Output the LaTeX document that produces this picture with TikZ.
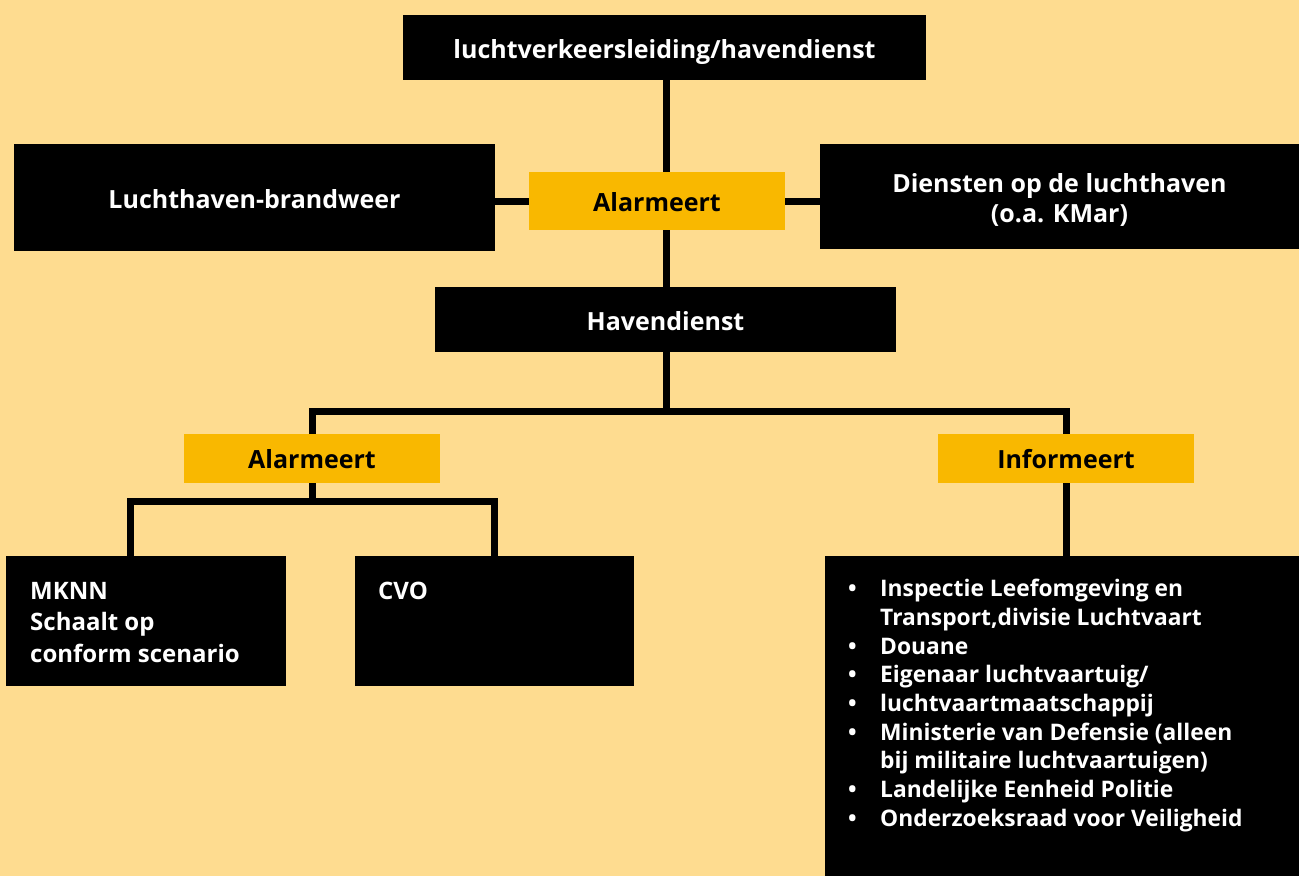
\documentclass[tikz,border=0pt]{standalone}
\usepackage{fontspec}
\setmainfont{Open Sans}
\usetikzlibrary{calc}
\definecolor{bgc}{HTML}{FEDC90}
\definecolor{orgc}{HTML}{F9B800}
\pgfdeclarelayer{bg}\pgfdeclarelayer{lines}
\pgfsetlayers{bg,lines,main}
\newcommand\mylbl{\fontsize{25}{30}\selectfont\bfseries}
\newcommand\mytxt{\fontsize{24}{31.5}\selectfont\bfseries}
\newcommand\mylist{\fontsize{22.8}{28.7}\selectfont\bfseries}
\begin{document}
\begin{tikzpicture}[x=1pt,y=-1pt,
  blk/.style={fill=black, text=white, inner sep=0pt, font=\mylbl, align=center, text height=21.5pt, text depth=0pt},
  orgbox/.style={fill=orgc, text=black, inner sep=0pt, font=\mylbl, align=center, text height=21.5pt, text depth=0pt},
  conn/.style={line width=7pt, draw=black, line join=miter, line cap=butt},
  inner/.style={text=white, inner sep=0pt, anchor=base west}]
\useasboundingbox (0,0) rectangle (1299,876);
\begin{pgfonlayer}{bg}
\fill[bgc] (0,0) rectangle (1299,876);
\end{pgfonlayer}

\node[blk, minimum width=523pt, minimum height=65pt] (top) at (664.5,47.5) {luchtverkeersleiding/havendienst};
\node[blk, minimum width=481pt, minimum height=107pt] (lb) at (254.5,197.5) {Luchthaven-brandweer};
\node[orgbox, minimum width=256pt, minimum height=58pt] (a1) at (657,201) {Alarmeert};
\node[blk, minimum width=479pt, minimum height=105pt, text height=20pt, text depth=29pt] (dl) at (1059.5,196.5) {\begin{tabular}[t]{@{}c@{}}Diensten op de luchthaven\\(o.a. KMar)\end{tabular}};
\node[blk, minimum width=461pt, minimum height=65pt] (hd) at (665.5,319.5) {Havendienst};
\node[orgbox, minimum width=256pt, minimum height=49pt, text height=20pt] (a2) at (312,458.5) {Alarmeert};
\node[orgbox, minimum width=256pt, minimum height=49pt, text height=20pt] (inf) at (1066,458.5) {Informeert};
\node[blk, minimum width=280pt, minimum height=130pt] (mk) at (146,621) {};
\node[blk, minimum width=279pt, minimum height=130pt] (cvo) at (494.5,621) {};
\node[blk, minimum width=474pt, minimum height=320pt] (info) at (1062,716) {};

\node[inner, font=\mytxt] (mktext) at (30,599) {\begin{tabular}[t]{@{}l@{}}MKNN\\Schaalt op\\conform scenario\end{tabular}};
\node[inner, font=\mytxt] (cvotext) at (378,599) {CVO};
\node[inner, font=\mylist] (infotext) at (848,596.7) {\begin{tabular}[t]{@{}l@{}l@{}}
\makebox[32pt][l]{•} & Inspectie Leefomgeving en\\
 & Transport,divisie Luchtvaart\\
\makebox[32pt][l]{•} & Douane\\
\makebox[32pt][l]{•} & Eigenaar luchtvaartuig/\\
\makebox[32pt][l]{•} & luchtvaartmaatschappij\\
\makebox[32pt][l]{•} & Ministerie van Defensie (alleen\\
 & bij militaire luchtvaartuigen)\\
\makebox[32pt][l]{•} & Landelijke Eenheid Politie\\
\makebox[32pt][l]{•} & Onderzoeksraad voor Veiligheid
\end{tabular}};

\coordinate (bar1) at (666,411);
\coordinate (bar2) at (312,501);
\coordinate (mkin) at (130,556);

\begin{pgfonlayer}{lines}
\draw[conn] (top.south -| bar1) -- (hd.north -| bar1);
\draw[conn] (lb.east |- a1.west) -- (a1.west);
\draw[conn] (a1.east) -- (a1.east -| dl.west);
\draw[conn] (hd.south -| bar1) -- (bar1);
\draw[conn] (a2.north) |- (bar1) -| (inf.north);
\draw[conn] (a2.south) -- (bar2);
\draw[conn] (mkin) |- (bar2) -| (cvo.north);
\draw[conn] (inf.south) -- (inf.south |- info.north);
\end{pgfonlayer}
\end{tikzpicture}
\end{document}
